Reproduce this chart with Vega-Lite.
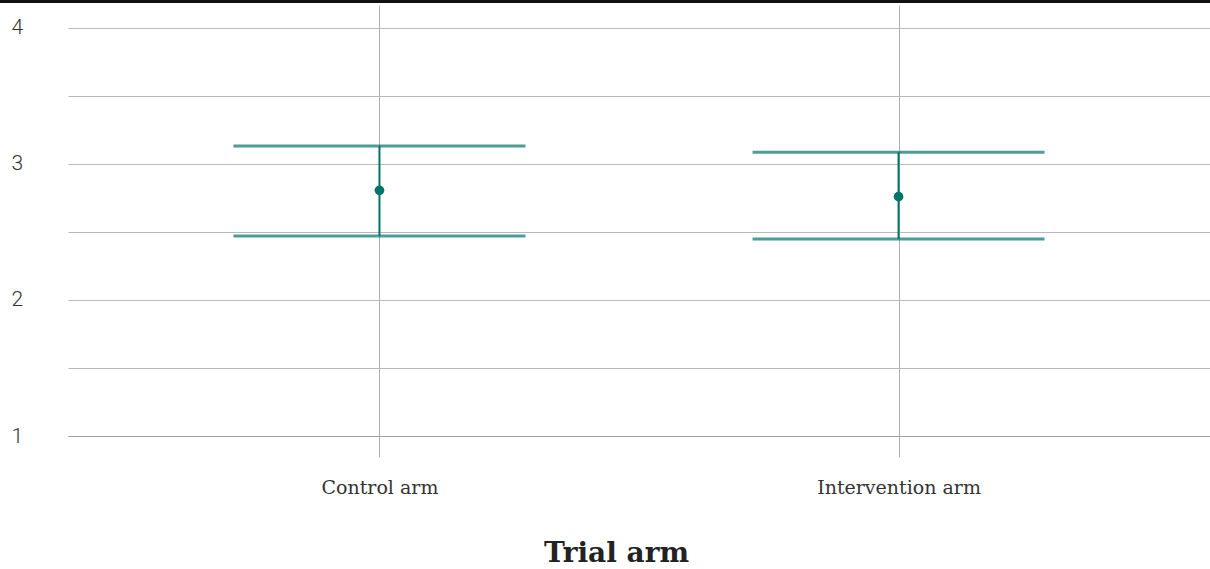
{
  "$schema": "https://vega.github.io/schema/vega-lite/v6.json",
  "width": 1142,
  "height": 431,
  "autosize": {"type": "none"},
  "padding": {"left": 68, "top": 5, "right": 0, "bottom": 133},
  "background": "white",
  "config": {"view": {"stroke": null}},
  "datasets": {
    "arms": [
      {"arm": "Control arm", "mean": 2.806, "lower": 2.471, "upper": 3.132},
      {"arm": "Intervention arm", "mean": 2.760, "lower": 2.449, "upper": 3.086}
    ],
    "frame": [{"start": 0, "end": 1, "top": 4.195}]
  },
  "resolve": {"scale": {"x": "independent"}, "axis": {"x": "independent"}},
  "layer": [
    {
      "data": {"name": "arms"},
      "layer": [
        {
          "mark": {"type": "rule", "color": "#00736a", "strokeWidth": 2},
          "encoding": {
            "x": {
              "field": "arm",
              "type": "nominal",
              "sort": null,
              "scale": {"type": "point", "padding": 0.6},
              "axis": {
                "title": "Trial arm",
                "labelAngle": 0,
                "domain": true,
                "domainColor": "#a0a0a0",
                "ticks": true,
                "tickSize": 21,
                "tickColor": "#b0b0b0",
                "grid": true,
                "gridColor": "#b0b0b0",
                "labelFont": "DejaVu Serif",
                "labelFontSize": 19,
                "labelColor": "#333333",
                "labelPadding": 21,
                "titleFont": "DejaVu Serif",
                "titleFontSize": 28,
                "titleFontWeight": "bold",
                "titleColor": "#222222",
                "titlePadding": 42,
                "titleX": 548
              }
            },
            "y": {
              "field": "lower",
              "type": "quantitative",
              "scale": {"domain": [1, 4.169], "nice": false, "zero": false},
              "axis": {
                "title": null,
                "values": [1, 1.5, 2, 2.5, 3, 3.5, 4],
                "labelExpr": "datum.value % 1 === 0 ? format(datum.value, 'd') : ''",
                "domain": false,
                "ticks": false,
                "grid": true,
                "gridColor": "#b8b8b8",
                "labelAlign": "left",
                "labelPadding": 57,
                "labelFont": "Roboto",
                "labelFontWeight": 300,
                "labelFontSize": 21,
                "labelColor": "#333333"
              }
            },
            "y2": {"field": "upper"}
          }
        },
        {
          "mark": {"type": "tick", "color": "#00736a", "size": 292, "thickness": 3},
          "encoding": {
            "x": {"field": "arm", "type": "nominal", "sort": null},
            "y": {"field": "upper", "type": "quantitative"}
          }
        },
        {
          "mark": {"type": "tick", "color": "#00736a", "size": 292, "thickness": 3},
          "encoding": {
            "x": {"field": "arm", "type": "nominal", "sort": null},
            "y": {"field": "lower", "type": "quantitative"}
          }
        },
        {
          "mark": {"type": "point", "filled": true, "opacity": 1, "color": "#00736a", "size": 95},
          "encoding": {
            "x": {"field": "arm", "type": "nominal", "sort": null},
            "y": {"field": "mean", "type": "quantitative"}
          }
        }
      ]
    },
    {
      "data": {"name": "frame"},
      "mark": {"type": "rule", "color": "#111111", "strokeWidth": 3},
      "encoding": {
        "x": {
          "field": "start",
          "type": "quantitative",
          "scale": {"domain": [0, 1], "range": [-68, 1142]},
          "axis": null
        },
        "x2": {"field": "end"},
        "y": {"field": "top", "type": "quantitative"}
      }
    }
  ]
}
